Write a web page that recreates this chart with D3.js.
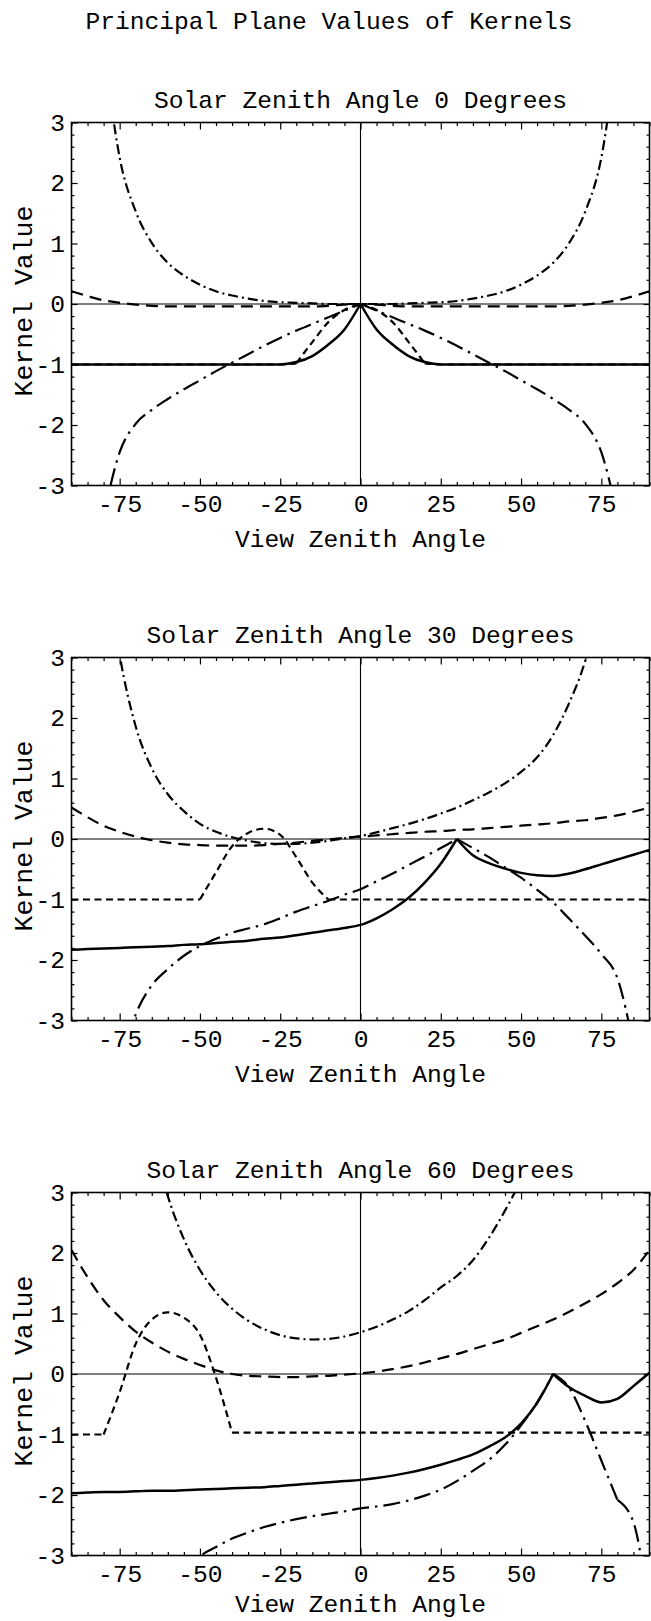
<!DOCTYPE html>
<html lang="en">
<head>
<meta charset="utf-8">
<title>Principal Plane Values of Kernels</title>
<script src="https://cdn.jsdelivr.net/npm/d3@7"></script>
<style>
  body { margin: 0; background: #fff; }
  text { font-family: "Liberation Mono", "DejaVu Sans Mono", monospace; fill: #000; }
</style>
</head>
<body>
<div id="chart"></div>
<script>
// view zenith angles (degrees), one value every 5 degrees
var angles = [-90,-85,-80,-75,-70,-65,-60,-55,-50,-45,-40,-35,-30,-25,-20,-15,-10,-5,0,
              5,10,15,20,25,30,35,40,45,50,55,60,65,70,75,80,85,90];
var xTicks = [-75,-50,-25,0,25,50,75];
var yTicks = [-3,-2,-1,0,1,2,3];
var yMinor = [-2.8,-2.6,-2.4,-2.2,-1.8,-1.6,-1.4,-1.2,-0.8,-0.6,-0.4,-0.2,
              0.2,0.4,0.6,0.8,1.2,1.4,1.6,1.8,2.2,2.4,2.6,2.8];
var solarZenith = [0, 30, 60];

// ---- solar zenith 0 ----
var sza0Solid = [-1,-1,-1,-1,-1,-1,-1,-1,-1,-1,-1,-1,-1,-1,-0.96,-0.86,-0.67,-0.42,0,
                 -0.42,-0.67,-0.86,-0.96,-1,-1,-1,-1,-1,-1,-1,-1,-1,-1,-1,-1,-1,-1];
var sza0ShortDash = [-1,-1,-1,-1,-1,-1,-1,-1,-1,-1,-1,-1,-1,-1,-0.98,-0.63,-0.3,-0.1,0,
                     -0.1,-0.3,-0.63,-0.98,-1,-1,-1,-1,-1,-1,-1,-1,-1,-1,-1,-1,-1,-1];
var sza0LongDash = [0.21,0.13,0.06,0.02,-0.01,-0.03,-0.04,-0.04,-0.04,-0.04,-0.04,-0.04,-0.04,-0.04,-0.04,-0.04,-0.03,-0.01,0,
                    -0.01,-0.03,-0.04,-0.04,-0.04,-0.04,-0.04,-0.04,-0.04,-0.04,-0.04,-0.04,-0.03,-0.01,0.02,0.06,0.13,0.21];
var sza0DashDot = [null,null,4.28,2.42,1.53,1.01,0.68,0.47,0.32,0.21,0.14,0.09,0.05,0.03,0.02,0.01,0,0,0,
                   0,0,0.01,0.02,0.03,0.05,0.09,0.14,0.21,0.32,0.47,0.68,1.01,1.53,2.42,4.28,null,null];
var sza0LongDashDot = [null,null,-3.5,-2.45,-1.98,-1.75,-1.57,-1.41,-1.26,-1.11,-0.97,-0.83,-0.69,-0.56,-0.44,-0.33,-0.22,-0.11,0,
                       -0.11,-0.22,-0.33,-0.44,-0.56,-0.69,-0.83,-0.97,-1.11,-1.26,-1.41,-1.57,-1.75,-1.98,-2.45,-3.5,null,null];

// ---- solar zenith 30 ----
var sza30Solid = [-1.83,-1.82,-1.81,-1.8,-1.79,-1.78,-1.77,-1.75,-1.74,-1.72,-1.7,-1.68,-1.65,-1.63,-1.59,-1.55,-1.51,-1.47,-1.42,
                  -1.31,-1.16,-0.97,-0.72,-0.41,0,-0.27,-0.4,-0.49,-0.56,-0.6,-0.61,-0.57,-0.5,-0.42,-0.34,-0.26,-0.18];
var sza30ShortDash = [-1,-1,-1,-1,-1,-1,-1,-1,-1,-0.55,-0.12,0.1,0.17,0.07,-0.3,-0.72,-1,-1,-1,
                      -1,-1,-1,-1,-1,-1,-1,-1,-1,-1,-1,-1,-1,-1,-1,-1,-1,-1];
var sza30LongDash = [0.52,0.36,0.22,0.12,0.04,-0.02,-0.06,-0.09,-0.1,-0.11,-0.11,-0.11,-0.1,-0.08,-0.06,-0.03,-0.01,0.02,0.04,
                     0.06,0.08,0.1,0.12,0.13,0.15,0.16,0.18,0.2,0.22,0.24,0.26,0.29,0.31,0.35,0.39,0.45,0.52];
var sza30DashDot = [null,null,4.9,3.04,1.86,1.17,0.74,0.46,0.25,0.12,0.03,-0.03,-0.07,-0.08,-0.08,-0.06,-0.03,0.01,0.05,
                    0.11,0.18,0.25,0.33,0.42,0.52,0.64,0.77,0.92,1.11,1.35,1.72,2.25,2.95,4.06,null,null,null];
var sza30LongDashDot = [null,null,null,-3.8,-2.9,-2.42,-2.15,-1.93,-1.77,-1.65,-1.55,-1.48,-1.41,-1.31,-1.2,-1.11,-1.02,-0.92,-0.83,
                        -0.7,-0.57,-0.43,-0.29,-0.15,0,-0.15,-0.3,-0.47,-0.64,-0.84,-1.05,-1.32,-1.6,-1.9,-2.3,-3.4,null];

// ---- solar zenith 60 ----
var sza60Solid = [-1.97,-1.96,-1.95,-1.95,-1.94,-1.93,-1.93,-1.92,-1.91,-1.9,-1.89,-1.88,-1.87,-1.85,-1.83,-1.81,-1.79,-1.77,-1.75,
                  -1.72,-1.68,-1.63,-1.57,-1.5,-1.42,-1.33,-1.2,-1.05,-0.82,-0.48,0,-0.22,-0.36,-0.47,-0.41,-0.2,0.02];
var sza60ShortDash = [-1,-1,-1,-0.3,0.5,0.9,1.02,0.93,0.65,-0.06,-0.97,-0.97,-0.97,-0.97,-0.97,-0.97,-0.97,-0.97,-0.97,
                      -0.97,-0.97,-0.97,-0.97,-0.97,-0.97,-0.97,-0.97,-0.97,-0.97,-0.97,-0.97,-0.97,-0.97,-0.97,-0.97,-0.97,-0.97];
var sza60LongDash = [2.05,1.6,1.22,0.94,0.7,0.52,0.37,0.25,0.15,0.06,0,-0.03,-0.04,-0.05,-0.05,-0.04,-0.03,-0.01,0.01,
                     0.04,0.08,0.13,0.19,0.26,0.33,0.41,0.49,0.57,0.68,0.79,0.9,1.03,1.17,1.32,1.5,1.72,2.05];
var sza60DashDot = [null,null,null,null,null,3.96,2.94,2.23,1.72,1.35,1.08,0.88,0.74,0.64,0.59,0.57,0.58,0.62,0.69,
                    0.78,0.9,1.04,1.22,1.43,1.62,1.88,2.25,2.7,3.2,null,null,null,null,null,null,null,null];
var sza60LongDashDot = [null,null,null,null,null,null,null,-3.4,-3.02,-2.86,-2.72,-2.62,-2.53,-2.46,-2.4,-2.35,-2.31,-2.27,-2.22,
                        -2.19,-2.15,-2.09,-2.01,-1.91,-1.77,-1.6,-1.42,-1.17,-0.85,-0.47,0,-0.23,-0.78,-1.43,-2.08,-2.45,-4.0];

// line styles
var styles = {
  solid:       {dash: null,            width: 2.5},
  shortDash:   {dash: "7,4.5",         width: 2.2},
  longDash:    {dash: "12,7",          width: 2.2},
  dashDot:     {dash: "10,4,2,4",      width: 2.2},
  longDashDot: {dash: "17,6,2.5,6",    width: 2.2}
};

// angles where a curve has a corner (hot spot cusp, kinks)
var panels = [
  {sza: solarZenith[0], series: [
    {style: "longDash",    vals: sza0LongDash,    breaks: []},
    {style: "dashDot",     vals: sza0DashDot,     breaks: []},
    {style: "longDashDot", vals: sza0LongDashDot, breaks: [0]},
    {style: "shortDash",   vals: sza0ShortDash,   breaks: [-20, 0, 20]},
    {style: "solid",       vals: sza0Solid,       breaks: [0]}]},
  {sza: solarZenith[1], series: [
    {style: "longDash",    vals: sza30LongDash,    breaks: []},
    {style: "dashDot",     vals: sza30DashDot,     breaks: []},
    {style: "longDashDot", vals: sza30LongDashDot, breaks: [30]},
    {style: "shortDash",   vals: sza30ShortDash,   breaks: [-50, -10]},
    {style: "solid",       vals: sza30Solid,       breaks: [30]}]},
  {sza: solarZenith[2], series: [
    {style: "longDash",    vals: sza60LongDash,    breaks: []},
    {style: "dashDot",     vals: sza60DashDot,     breaks: []},
    {style: "longDashDot", vals: sza60LongDashDot, breaks: [60, 80]},
    {style: "shortDash",   vals: sza60ShortDash,   breaks: [-80, -40]},
    {style: "solid",       vals: sza60Solid,       breaks: [60]}]}
];

var W = 651, H = 1621;
var left = 71.5, right = 649.5, plotH = 363;
var panelTop = [122.5, 657.5, 1192.5];
var fs = 24.6;

var svg = d3.select("#chart").append("svg")
  .attr("width", W).attr("height", H);

svg.append("text")
  .attr("x", 329).attr("y", 29)
  .attr("text-anchor", "middle")
  .style("font-size", fs + "px")
  .text("Principal Plane Values of Kernels");

var x = d3.scaleLinear().domain([-90, 90]).range([left, right]);
var xMinor = angles.filter(function(a) { return xTicks.indexOf(a) < 0; });

// split a series into pieces at its corners, skipping undefined points
function pieces(vals, breaks) {
  var out = [], cur = [];
  angles.forEach(function(a, i) {
    var v = vals[i];
    if (v == null) { if (cur.length > 1) out.push(cur); cur = []; return; }
    cur.push({a: a, v: v});
    if (breaks.indexOf(a) >= 0) { if (cur.length > 1) out.push(cur); cur = [{a: a, v: v}]; }
  });
  if (cur.length > 1) out.push(cur);
  return out;
}

panels.forEach(function(p, pi) {
  var top = panelTop[pi], bottom = top + plotH;
  var y = d3.scaleLinear().domain([-3, 3]).range([bottom, top]);
  var g = svg.append("g");

  g.append("text")
    .attr("x", (left + right) / 2).attr("y", top - 15)
    .attr("text-anchor", "middle")
    .style("font-size", fs + "px")
    .text("Solar Zenith Angle " + p.sza + " Degrees");

  g.append("text")
    .attr("x", (left + right) / 2).attr("y", Math.min(bottom + 61, H - 9))
    .attr("text-anchor", "middle")
    .style("font-size", fs + "px")
    .text("View Zenith Angle");

  g.append("text")
    .attr("transform", "translate(25," + ((top + bottom) / 2 - 3) + ") rotate(-90)")
    .attr("text-anchor", "middle")
    .attr("dominant-baseline", "central")
    .style("font-size", "26.5px")
    .text("Kernel Value");

  // axes through the origin
  g.append("line").attr("x1", left).attr("x2", right).attr("y1", y(0)).attr("y2", y(0))
    .attr("stroke", "#000").attr("stroke-width", 1.1);
  g.append("line").attr("x1", x(0)).attr("x2", x(0)).attr("y1", top).attr("y2", bottom)
    .attr("stroke", "#000").attr("stroke-width", 1.1);

  // curves
  var clipId = "clip" + pi;
  svg.append("clipPath").attr("id", clipId).append("rect")
    .attr("x", left).attr("y", top).attr("width", right - left).attr("height", plotH);

  var line = d3.line()
    .x(function(d) { return x(d.a); })
    .y(function(d) { return y(d.v); })
    .curve(d3.curveMonotoneX);

  var curves = g.append("g").attr("clip-path", "url(#" + clipId + ")");
  p.series.forEach(function(s) {
    var st = styles[s.style];
    pieces(s.vals, s.breaks).forEach(function(seg) {
      curves.append("path")
        .attr("d", line(seg))
        .attr("fill", "none")
        .attr("stroke", "#000")
        .attr("stroke-width", st.width)
        .attr("stroke-dasharray", st.dash)
        .attr("stroke-linejoin", "round");
    });
  });

  // frame ticks, pointing inward
  function tidy(sel) {
    sel.attr("font-family", null).attr("font-size", null);
    sel.select(".domain").remove();
    sel.selectAll(".tick line").attr("stroke", "#000").attr("stroke-width", 1.2);
    sel.selectAll("text").style("font-size", fs + "px");
  }
  var fmt = function(d) { return String(d); };

  g.append("g").attr("transform", "translate(0," + bottom + ")")
    .call(d3.axisBottom(x).tickValues(xTicks).tickSize(-7).tickPadding(9).tickFormat(fmt)).call(tidy);
  g.append("g").attr("transform", "translate(0," + bottom + ")")
    .call(d3.axisBottom(x).tickValues(xMinor).tickSize(-3.5).tickFormat("")).call(tidy);
  g.append("g").attr("transform", "translate(0," + top + ")")
    .call(d3.axisTop(x).tickValues(xTicks).tickSize(-7).tickFormat("")).call(tidy);
  g.append("g").attr("transform", "translate(0," + top + ")")
    .call(d3.axisTop(x).tickValues(xMinor).tickSize(-3.5).tickFormat("")).call(tidy);

  g.append("g").attr("transform", "translate(" + left + ",0)")
    .call(d3.axisLeft(y).tickValues(yTicks).tickSize(-6).tickPadding(6.5).tickFormat(fmt)).call(tidy);
  g.append("g").attr("transform", "translate(" + left + ",0)")
    .call(d3.axisLeft(y).tickValues(yMinor).tickSize(-3).tickFormat("")).call(tidy);
  g.append("g").attr("transform", "translate(" + right + ",0)")
    .call(d3.axisRight(y).tickValues(yTicks).tickSize(-6).tickFormat("")).call(tidy);
  g.append("g").attr("transform", "translate(" + right + ",0)")
    .call(d3.axisRight(y).tickValues(yMinor).tickSize(-3).tickFormat("")).call(tidy);

  // frame
  g.append("rect")
    .attr("x", left).attr("y", top).attr("width", right - left).attr("height", plotH)
    .attr("fill", "none").attr("stroke", "#000").attr("stroke-width", 1.6);
});
</script>
</body>
</html>
